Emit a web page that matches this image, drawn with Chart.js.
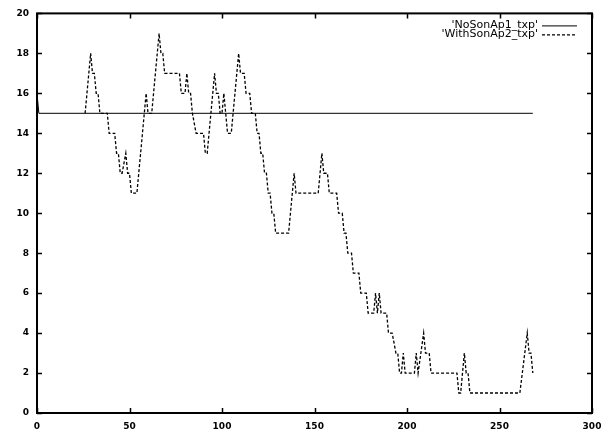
<!DOCTYPE html>
<html>
<head>
<meta charset="utf-8">
<title>txp</title>
<script src="https://cdn.jsdelivr.net/npm/chart.js@4"></script>
<style>
  html, body { margin: 0; padding: 0; background: #fff; }
  #chart { display: block; }
</style>
</head>
<body>
<canvas id="chart" width="610" height="436"></canvas>
<script>
// tick labels
const xTicks = [0, 50, 100, 150, 200, 250, 300];
const yTicks = [0, 2, 4, 6, 8, 10, 12, 14, 16, 18, 20];

// 'NoSonAp1_txp'
const noSonX = [0, 1, 268];
const noSonY = [16, 15, 15];

// 'WithSonAp2_txp' (vertices)
const withSonX = [26, 29, 30, 31, 32, 33, 34, 38, 39, 42, 43, 44, 45, 46, 48, 49, 50, 51, 54, 55,
  58, 59, 60, 62, 66, 67, 68, 69, 77, 78, 80, 81, 82, 83, 84, 86, 90, 91, 92, 96,
  97, 98, 99, 100, 101, 102, 103, 105, 109, 110, 112, 113, 115, 116, 118, 119, 120, 121, 122, 123,
  124, 125, 126, 127, 128, 129, 136, 139, 140, 152, 154, 155, 157, 158, 162, 163, 165, 166, 167, 168,
  170, 171, 174, 175, 178, 179, 182, 183, 184, 185, 186, 189, 190, 192, 194, 195, 196, 197, 198, 199,
  204, 205, 206, 209, 210, 212, 213, 227, 228, 229, 231, 232, 233, 234, 261, 265, 266, 267, 268];
const withSonY = [15, 18, 17, 17, 16, 16, 15, 15, 14, 14, 13, 13, 12, 12, 13, 12, 12, 11, 11, 12,
  15, 16, 15, 15, 19, 18, 18, 17, 17, 16, 16, 17, 16, 16, 15, 14, 14, 13, 13, 17,
  16, 16, 15, 15, 16, 15, 14, 14, 18, 17, 17, 16, 16, 15, 15, 14, 14, 13, 13, 12,
  12, 11, 11, 10, 10, 9, 9, 12, 11, 11, 13, 12, 12, 11, 11, 10, 10, 9, 9, 8,
  8, 7, 7, 6, 6, 5, 5, 6, 5, 6, 5, 5, 4, 4, 3, 3, 2, 2, 3, 2,
  2, 3, 2, 4, 3, 3, 2, 2, 1, 1, 3, 2, 2, 1, 1, 4, 3, 3, 2];

const toPoints = (xs, ys) => xs.map((x, i) => ({x: x, y: ys[i]}));

const tickFont = {family: 'DejaVu Sans', size: 9, weight: 'bold'};

// box, mirrored inward ticks and gnuplot style key
const gnuplotFrame = {
  id: 'gnuplotFrame',
  afterDatasetsDraw(chart) {
    const {ctx, chartArea: a, scales} = chart;
    ctx.save();
    ctx.strokeStyle = '#000';
    ctx.lineWidth = 1.5;
    ctx.beginPath();
    xTicks.forEach(v => {
      const px = Math.round(scales.x.getPixelForValue(v)) + 0.5;
      ctx.moveTo(px, a.bottom); ctx.lineTo(px, a.bottom - 5);
      ctx.moveTo(px, a.top); ctx.lineTo(px, a.top + 5);
    });
    yTicks.forEach(v => {
      const py = Math.round(scales.y.getPixelForValue(v)) + 0.5;
      ctx.moveTo(a.left, py); ctx.lineTo(a.left + 5, py);
      ctx.moveTo(a.right, py); ctx.lineTo(a.right - 5, py);
    });
    ctx.stroke();
    ctx.lineWidth = 2;
    ctx.strokeRect(a.left, a.top, a.right - a.left, a.bottom - a.top);

    // key
    ctx.font = '11px "DejaVu Sans"';
    ctx.fillStyle = '#000';
    ctx.textAlign = 'right';
    ctx.textBaseline = 'middle';
    chart.data.datasets.forEach((ds, i) => {
      const y = a.top + 12 + i * 9;
      ctx.fillText(ds.label, a.right - 54, y);
      ctx.lineWidth = ds.borderWidth;
      ctx.setLineDash(ds.borderDash || []);
      ctx.beginPath();
      ctx.moveTo(a.right - 50, y + 0.5);
      ctx.lineTo(a.right - 15, y + 0.5);
      ctx.stroke();
    });
    ctx.restore();
  }
};

new Chart(document.getElementById('chart'), {
  type: 'line',
  data: {
    datasets: [
      {
        label: "'NoSonAp1_txp'",
        data: toPoints(noSonX, noSonY),
        borderColor: '#000',
        borderWidth: 1,
        pointRadius: 0,
        tension: 0
      },
      {
        label: "'WithSonAp2_txp'",
        data: toPoints(withSonX, withSonY),
        borderColor: '#000',
        borderWidth: 1.3,
        borderDash: [3, 2],
        pointRadius: 0,
        tension: 0
      }
    ]
  },
  options: {
    responsive: false,
    animation: false,
    layout: {padding: {left: 0, right: 18, top: 13, bottom: 0}},
    plugins: {legend: {display: false}, tooltip: {enabled: false}},
    scales: {
      x: {
        type: 'linear',
        min: 0,
        max: 300,
        afterBuildTicks: s => { s.ticks = xTicks.map(v => ({value: v})); },
        afterFit: s => { s.height = 23; },
        ticks: {font: tickFont, color: '#000', padding: 8, maxRotation: 0},
        grid: {display: false, drawTicks: false},
        border: {display: false}
      },
      y: {
        type: 'linear',
        min: 0,
        max: 20,
        afterBuildTicks: s => { s.ticks = yTicks.map(v => ({value: v})); },
        afterFit: s => { s.width = 37; },
        ticks: {font: tickFont, color: '#000', padding: 8},
        grid: {display: false, drawTicks: false},
        border: {display: false}
      }
    }
  },
  plugins: [gnuplotFrame]
});
</script>
</body>
</html>
